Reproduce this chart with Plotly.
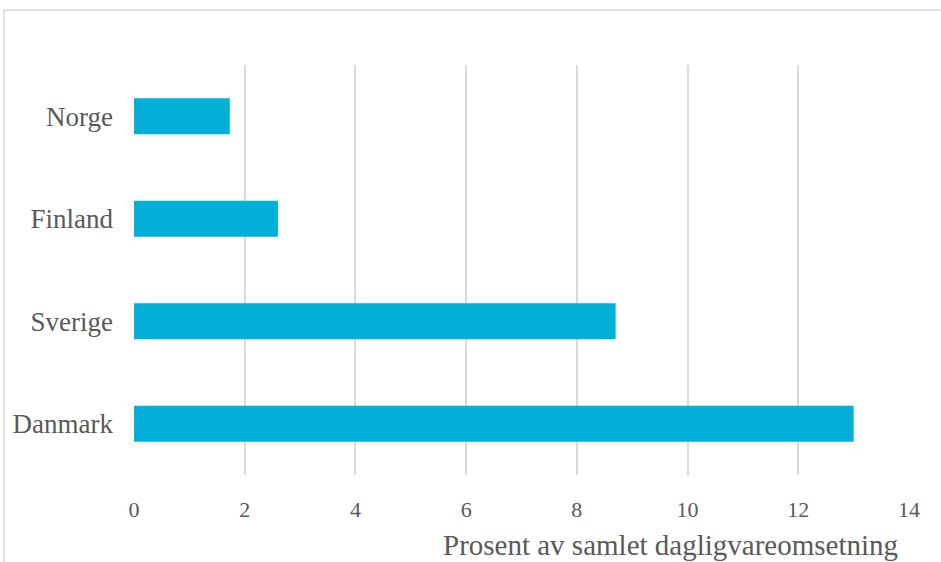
import plotly.graph_objects as go

countries = ['Danmark', 'Sverige', 'Finland', 'Norge']
values = [13.0, 8.7, 2.6, 1.73]
tick_vals = [0, 2, 4, 6, 8, 10, 12, 14]
axis_title = 'Prosent av samlet dagligvareomsetning'

font_name = 'Liberation Serif'
grey = '#595959'

fig = go.Figure()

fig.add_trace(go.Bar(
    x=values,
    y=countries,
    orientation='h',
    marker=dict(color='#02AFD7', line=dict(width=0)),
    width=0.35,
))

fig.update_layout(
    width=941,
    height=562,
    margin=dict(l=134, r=32, t=65, b=87),
    paper_bgcolor='white',
    plot_bgcolor='white',
    showlegend=False,
    font=dict(family=font_name, color=grey),
    xaxis=dict(
        range=[0, 14],
        tickvals=tick_vals,
        showgrid=True,
        gridcolor='#D9D9D9',
        gridwidth=1.5,
        zeroline=False,
        showline=False,
        tickfont=dict(size=22, color=grey),
        ticklabelstandoff=19,
        fixedrange=True,
    ),
    yaxis=dict(
        showgrid=False,
        zeroline=False,
        showline=False,
        tickfont=dict(size=27, color=grey),
        ticklabelstandoff=20,
        fixedrange=True,
    ),
    annotations=[dict(
        text=axis_title,
        xref='paper', yref='paper',
        x=0.988, y=-0.171,
        xanchor='right', yanchor='middle',
        showarrow=False,
        font=dict(family=font_name, size=29, color=grey),
    )],
    shapes=[dict(
        type='rect',
        xref='paper', yref='paper',
        x0=-0.1677, x1=1.2, y0=-0.4, y1=1.134,
        line=dict(color='#D9D9D9', width=1.5),
        fillcolor='rgba(0,0,0,0)',
        layer='below',
    )],
)

# page has a default 8px body margin, drop it so the chart sits at 0,0
fig.write_html("out.html", config={'displayModeBar': False},
               post_script="document.body.style.margin='0';")
